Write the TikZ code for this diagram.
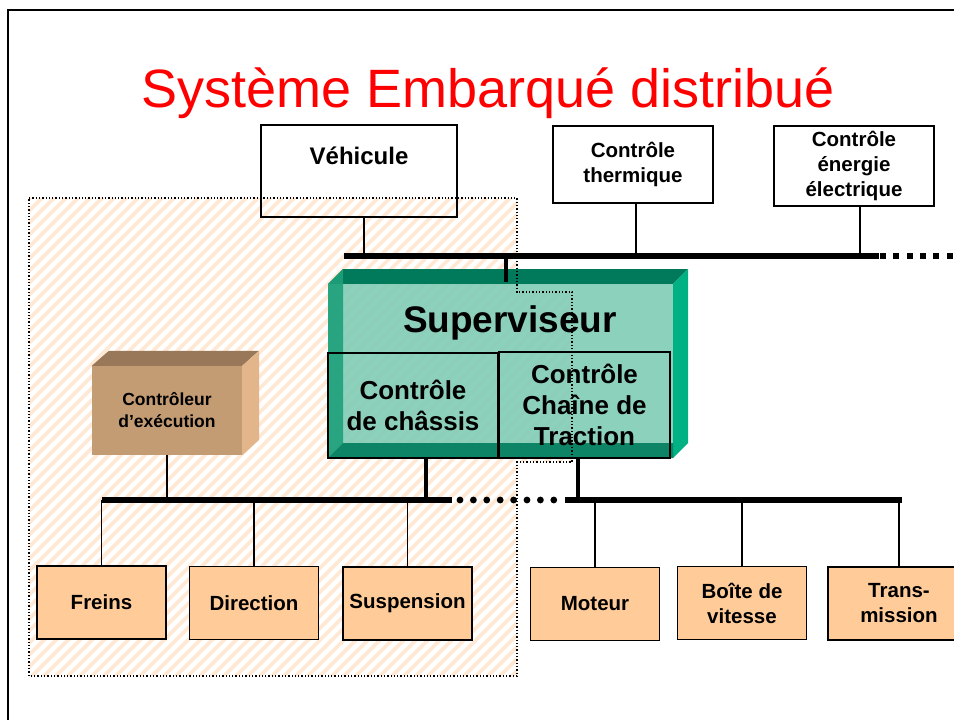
\documentclass[tikz,border=0pt]{standalone}
\usepackage{fontspec}
\setmainfont{Liberation Sans}
\usetikzlibrary{positioning}
\definecolor{peach}{RGB}{255,204,153}
\definecolor{hatchc}{RGB}{255,232,212}
\definecolor{supfront}{RGB}{128,204,181}
\definecolor{suptop}{RGB}{0,122,90}
\definecolor{supside}{RGB}{0,178,131}
\definecolor{supleft}{RGB}{30,160,122}
\definecolor{supbot}{RGB}{0,124,92}
\definecolor{tanfront}{RGB}{196,156,116}
\definecolor{tantop}{RGB}{152,120,88}
\definecolor{tanside}{RGB}{226,182,138}
\begin{document}
\begin{tikzpicture}[x=1pt,y=-1pt,
    box/.style={draw,line width=1.8pt,inner sep=0pt},
    haut/.style={box,fill=white,minimum width=160,font=\fontsize{20.5}{25}\selectfont\bfseries,align=center},
    feuille/.style={box,fill=peach,minimum width=129,minimum height=73,font=\fontsize{20.5}{25}\selectfont\bfseries,align=center},
    bus/.style={line width=6pt},
    fil/.style={line width=1.6pt},
    gros/.style={line width=3.5pt}]
  \useasboundingbox (0,0) rectangle (954,720);
  \draw[line width=2.2pt] (8,740) -- (8,10) -- (970,10);
  \node[anchor=base,font=\fontsize{54}{60}\selectfont,text=red] (titre) at (488,107) {Système Embarqué distribué};
  % zone hachuree
  \begin{scope}
    \clip (29,198) -- (517,198) -- (517,292) -- (572,292) -- (572,462) -- (517,462) -- (517,676) -- (29,676) -- cycle;
    \foreach \k in {0,...,95}
      \draw[hatchc,line width=3.6pt] (-520+\k*12,700) -- ++(520,-520);
  \end{scope}
  % superviseur
  \fill[suptop] (328,284) -- (343,269) -- (688,269) -- (673,284) -- cycle;
  \fill[supside] (673,284) -- (688,269) -- (688,443) -- (673,458) -- cycle;
  \begin{scope}[opacity=.9]
    \fill[supfront] (328,284) rectangle (673,458);
    \fill[supleft] (328,284) -- (343,269) -- (343,443) -- (328,458) -- cycle;
    \fill[supbot] (328,458) -- (343,443) -- (673,443) -- (673,458) -- cycle;
  \end{scope}
  \node[font=\fontsize{37}{44}\selectfont\bfseries] (superviseur) at (510,323) {Superviseur};
  \node[box,minimum width=170,minimum height=105,font=\fontsize{26}{31}\selectfont\bfseries,align=center] (chassis) at (413,405.5) {Contrôle\\de châssis};
  \node[box,minimum width=171,minimum height=106,font=\fontsize{26}{31}\selectfont\bfseries,align=center] (traction) at (584.5,405) {Contrôle\\Chaîne de\\Traction};
  \draw[dotted,line width=1.3pt] (29,198) -- (517,198) -- (517,292) -- (572,292) -- (572,462) -- (517,462) -- (517,676) -- (29,676) -- cycle;
  % boites du haut
  \node[box,minimum width=196,minimum height=92] (vehicule) at (359,171) {};
  \node[font=\fontsize{24}{29}\selectfont\bfseries] (vehiculetxt) at ([yshift=-32]vehicule.north) {Véhicule};
  \node[haut,minimum height=77] (thermique) at (633,164.5) {Contrôle\\thermique};
  \node[haut,minimum height=80] (energie) at (854,166) {Contrôle\\énergie\\électrique};
  \coordinate (busA) at (344,256);
  \coordinate (busB) at (879,256);
  \draw[bus] (busA) -- (busB);
  \foreach \k in {0,...,5}
    \fill (880+\k*13.3,253) rectangle ++(6,6);
  \draw[fil] ([xshift=5]vehicule.south) -- ([xshift=5]vehicule.south |- busA);
  \draw[fil] ([xshift=3]thermique.south) -- ([xshift=3]thermique.south |- busA);
  \draw[fil] ([xshift=6]energie.south) -- ([xshift=6]energie.south |- busA);
  \coordinate (suphaut) at (506,282);
  \draw[gros] (suphaut) -- (suphaut |- busA);
  % controleur d'execution
  \node[fill=tanfront,minimum width=150,minimum height=89,inner sep=0pt,align=center,font=\fontsize{17.5}{22}\selectfont\bfseries] (controleur) at (167,410.5) {Contrôleur\\d’exécution};
  \fill[tantop] (controleur.north west) -- ++(17,-15) -- ++(150,0) -- (controleur.north east) -- cycle;
  \fill[tanside] (controleur.north east) -- ++(17,-15) -- ++(0,89) -- (controleur.south east) -- cycle;
  % bus du bas
  \coordinate (busC) at (102,500);
  \coordinate (busD) at (452,500);
  \coordinate (busE) at (565,500);
  \coordinate (busF) at (902,500);
  \draw[bus] (busC) -- (busD);
  \draw[bus] (busE) -- (busF);
  \foreach \k in {0,...,7}
    \fill (460+\k*13.4,500) circle (3.4);
  \draw[gros] ([xshift=13]chassis.south) -- ([xshift=13]chassis.south |- busC);
  \draw[gros] ([xshift=-6.5]traction.south) -- ([xshift=-6.5]traction.south |- busC);
  \draw[fil] (controleur.south) -- (controleur.south |- busC);
  % actionneurs
  \node[feuille] (freins) at (101.5,602.5) {Freins};
  \node[feuille] (direction) at (254,603) {Direction};
  \node[feuille] (suspension) at (407.5,603.5) {Suspension};
  \node[feuille] (moteur) at (595,604) {Moteur};
  \node[feuille] (boite) at (742,603) {Boîte de\\vitesse};
  \node[feuille,minimum width=142] (transmission) at (899,603.5) {Trans-\\mission};
  \foreach \n in {freins,direction,suspension,moteur,boite,transmission}
    \draw[fil] (\n.north) -- (\n.north |- busC);
\end{tikzpicture}
\end{document}
